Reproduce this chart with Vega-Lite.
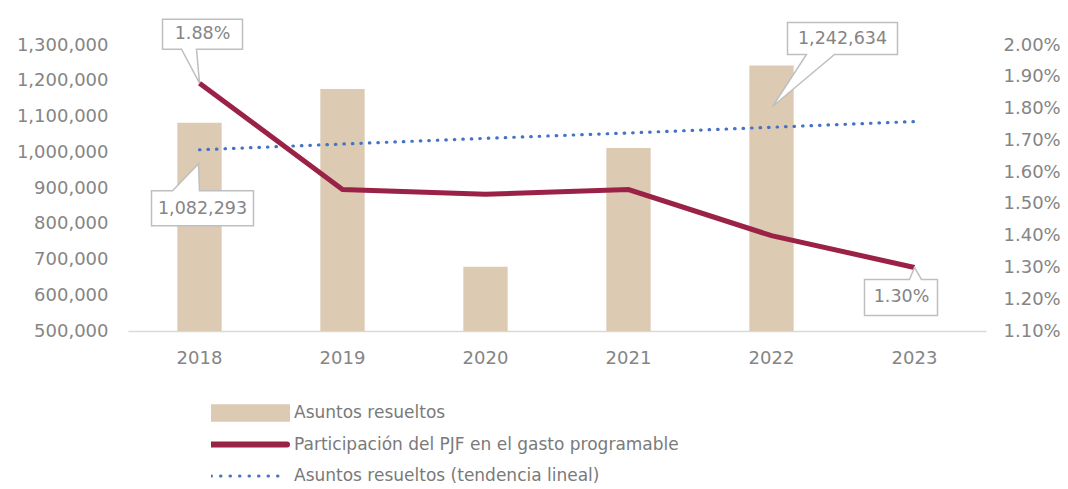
{
  "$schema": "https://vega.github.io/schema/vega-lite/v6.json",
  "width": 858,
  "height": 286,
  "autosize": "none",
  "padding": {"left": 128, "top": 45, "right": 82, "bottom": 158},
  "background": "white",
  "config": {
    "view": {"stroke": null},
    "font": "DejaVu Sans",
    "axis": {"labelFont": "DejaVu Sans", "labelFontSize": 18, "labelColor": "#858585", "ticks": false, "grid": false, "domain": false, "labelOverlap": false, "labelBound": false}
  },
  "data": {
    "values": [
      {"year": "2018", "asuntos": 1082293, "pct": 0.0188, "tendencia": 1007000},
      {"year": "2019", "asuntos": 1177000, "pct": 0.01545, "tendencia": 1023000},
      {"year": "2020", "asuntos": 680000, "pct": 0.0153, "tendencia": 1039000},
      {"year": "2021", "asuntos": 1012000, "pct": 0.01545, "tendencia": 1054000},
      {"year": "2022", "asuntos": 1242634, "pct": 0.0140, "tendencia": 1070000},
      {"year": "2023", "asuntos": null, "pct": 0.0130, "tendencia": 1086000}
    ]
  },
  "encoding": {
    "x": {
      "field": "year",
      "type": "ordinal",
      "title": null,
      "scale": {"paddingInner": 0.69, "paddingOuter": 0.345},
      "axis": {"labelAngle": 0, "domain": true, "domainColor": "#d9d9d9", "domainWidth": 1.5, "labelPadding": 18}
    }
  },
  "layer": [
    {
      "layer": [
        {
          "transform": [{"filter": "datum.asuntos != null"}],
          "mark": {"type": "bar", "color": "#dccbb2"},
          "encoding": {
            "y": {
              "field": "asuntos",
              "type": "quantitative",
              "title": null,
              "scale": {"domain": [500000, 1300000], "zero": false, "nice": false},
              "axis": {"orient": "left", "values": [500000, 600000, 700000, 800000, 900000, 1000000, 1100000, 1200000, 1300000], "format": ",d", "labelPadding": 20, "labelOverlap": false}
            },
            "y2": {"datum": 500000},
            "color": {
              "datum": "Asuntos resueltos",
              "type": "nominal",
              "scale": {
                "domain": ["Asuntos resueltos", "Participación del PJF en el gasto programable", "Asuntos resueltos (tendencia lineal)"],
                "range": ["#dccbb2", "#9b2247", "#4472c4"]
              },
              "legend": {
                "orient": "none",
                "legendX": 83,
                "legendY": 355.5,
                "direction": "vertical",
                "title": null,
                "labelFont": "DejaVu Sans",
                "labelFontSize": 17,
                "labelColor": "#7a7a7a",
                "labelOffset": 66,
                "labelLimit": 0,
                "clipHeight": 25,
                "rowPadding": 6.5,
                "symbolSize": 5776,
                "symbolType": "M-1,-0.15H1V0.15H-1Z",
                "encode": {
                  "symbols": {
                    "update": {
                      "x": {"value": 38},
                      "shape": {"signal": "datum.value === 'Asuntos resueltos' ? 'M-1,-0.15H1V0.15H-1Z' : 'M-1,0H1'"},
                      "size": {"value": 5776},
                      "fill": {"signal": "datum.value === 'Asuntos resueltos' ? '#dccbb2' : 'transparent'"},
                      "fillOpacity": {"value": 1},
                      "stroke": {"signal": "datum.value === 'Asuntos resueltos' ? 'transparent' : (datum.value === 'Asuntos resueltos (tendencia lineal)' ? '#4472c4' : '#9b2247')"},
                      "strokeWidth": {"signal": "datum.value === 'Asuntos resueltos (tendencia lineal)' ? 3 : 6"},
                      "strokeDash": {"signal": "datum.value === 'Asuntos resueltos (tendencia lineal)' ? [0.5, 9] : []"},
                      "strokeCap": {"value": "round"},
                      "opacity": {"value": 1}
                    }
                  },
                  "labels": {
                    "update": {
                      "x": {"value": 83}
                    }
                  }
                }
              }
            }
          }
        },
        {
          "mark": {"type": "line", "strokeDash": [0.5, 8], "strokeCap": "round", "strokeWidth": 3.2},
          "encoding": {
            "y": {"field": "tendencia", "type": "quantitative", "title": null,
              "axis": {"orient": "left", "values": [500000, 600000, 700000, 800000, 900000, 1000000, 1100000, 1200000, 1300000], "format": ",d", "labelPadding": 20, "labelOverlap": false}},
            "color": {"datum": "Asuntos resueltos (tendencia lineal)", "type": "nominal"}
          }
        },
        {
          "transform": [{"filter": "datum.year == '2018'"}],
          "mark": {"type": "point", "shape": "M-48,68H-27L-1,41L0,68H54V103H-48Z", "size": 4, "fill": "white", "stroke": "#bfbfbf", "strokeWidth": 1.5, "fillOpacity": 1, "strokeOpacity": 1, "opacity": 1},
          "encoding": {"y": {"field": "asuntos", "type": "quantitative", "title": null,
            "axis": {"orient": "left", "values": [500000, 600000, 700000, 800000, 900000, 1000000, 1100000, 1200000, 1300000], "format": ",d", "labelPadding": 20, "labelOverlap": false}}}
        },
        {
          "transform": [{"filter": "datum.year == '2018'"}],
          "mark": {"type": "text", "dx": 3, "dy": 86, "fontSize": 17.5, "color": "#858585", "font": "DejaVu Sans"},
          "encoding": {
            "y": {"field": "asuntos", "type": "quantitative", "title": null,
              "axis": {"orient": "left", "values": [500000, 600000, 700000, 800000, 900000, 1000000, 1100000, 1200000, 1300000], "format": ",d", "labelPadding": 20, "labelOverlap": false}},
            "text": {"field": "asuntos", "type": "quantitative", "format": ",d"}
          }
        },
        {
          "transform": [{"filter": "datum.year == '2022'"}],
          "mark": {"type": "point", "shape": "M16,-43H126V-11H63L1,41L35,-11H16Z", "size": 4, "fill": "white", "stroke": "#bfbfbf", "strokeWidth": 1.5, "fillOpacity": 1, "strokeOpacity": 1, "opacity": 1},
          "encoding": {"y": {"field": "asuntos", "type": "quantitative", "title": null,
            "axis": {"orient": "left", "values": [500000, 600000, 700000, 800000, 900000, 1000000, 1100000, 1200000, 1300000], "format": ",d", "labelPadding": 20, "labelOverlap": false}}}
        },
        {
          "transform": [{"filter": "datum.year == '2022'"}],
          "mark": {"type": "text", "dx": 71, "dy": -27, "fontSize": 17.5, "color": "#858585", "font": "DejaVu Sans"},
          "encoding": {
            "y": {"field": "asuntos", "type": "quantitative", "title": null,
              "axis": {"orient": "left", "values": [500000, 600000, 700000, 800000, 900000, 1000000, 1100000, 1200000, 1300000], "format": ",d", "labelPadding": 20, "labelOverlap": false}},
            "text": {"field": "asuntos", "type": "quantitative", "format": ",d"}
          }
        }
      ]
    },
    {
      "layer": [
        {
          "mark": {"type": "line", "strokeWidth": 5},
          "encoding": {
            "y": {
              "field": "pct",
              "type": "quantitative",
              "title": null,
              "scale": {"domain": [0.011, 0.02], "zero": false, "nice": false},
              "axis": {"orient": "right", "values": [0.011, 0.012, 0.013, 0.014, 0.015, 0.016, 0.017, 0.018, 0.019, 0.02], "format": ".2%", "labelPadding": 17, "labelOverlap": false}
            },
            "color": {"datum": "Participación del PJF en el gasto programable", "type": "nominal"}
          }
        },
        {
          "transform": [{"filter": "datum.year == '2018'"}],
          "mark": {"type": "point", "shape": "M-37,-64H43V-34H-3L0,0L-18,-34H-37Z", "size": 4, "fill": "white", "stroke": "#bfbfbf", "strokeWidth": 1.5, "fillOpacity": 1, "strokeOpacity": 1, "opacity": 1},
          "encoding": {"y": {"field": "pct", "type": "quantitative", "title": null,
            "axis": {"orient": "right", "values": [0.011, 0.012, 0.013, 0.014, 0.015, 0.016, 0.017, 0.018, 0.019, 0.02], "format": ".2%", "labelPadding": 17, "labelOverlap": false}}}
        },
        {
          "transform": [{"filter": "datum.year == '2018'"}],
          "mark": {"type": "text", "dx": 3, "dy": -49, "fontSize": 17.5, "color": "#858585", "font": "DejaVu Sans"},
          "encoding": {
            "y": {"field": "pct", "type": "quantitative", "title": null,
              "axis": {"orient": "right", "values": [0.011, 0.012, 0.013, 0.014, 0.015, 0.016, 0.017, 0.018, 0.019, 0.02], "format": ".2%", "labelPadding": 17, "labelOverlap": false}},
            "text": {"field": "pct", "type": "quantitative", "format": ".2%"}
          }
        },
        {
          "transform": [{"filter": "datum.year == '2023'"}],
          "mark": {"type": "point", "shape": "M-50,12H-5L0,0L7,12H23V48H-50Z", "size": 4, "fill": "white", "stroke": "#bfbfbf", "strokeWidth": 1.5, "fillOpacity": 1, "strokeOpacity": 1, "opacity": 1},
          "encoding": {"y": {"field": "pct", "type": "quantitative", "title": null,
            "axis": {"orient": "right", "values": [0.011, 0.012, 0.013, 0.014, 0.015, 0.016, 0.017, 0.018, 0.019, 0.02], "format": ".2%", "labelPadding": 17, "labelOverlap": false}}}
        },
        {
          "transform": [{"filter": "datum.year == '2023'"}],
          "mark": {"type": "text", "dx": -13, "dy": 30, "fontSize": 17.5, "color": "#858585", "font": "DejaVu Sans"},
          "encoding": {
            "y": {"field": "pct", "type": "quantitative", "title": null,
              "axis": {"orient": "right", "values": [0.011, 0.012, 0.013, 0.014, 0.015, 0.016, 0.017, 0.018, 0.019, 0.02], "format": ".2%", "labelPadding": 17, "labelOverlap": false}},
            "text": {"field": "pct", "type": "quantitative", "format": ".2%"}
          }
        }
      ]
    }
  ],
  "resolve": {"scale": {"y": "independent"}}
}
